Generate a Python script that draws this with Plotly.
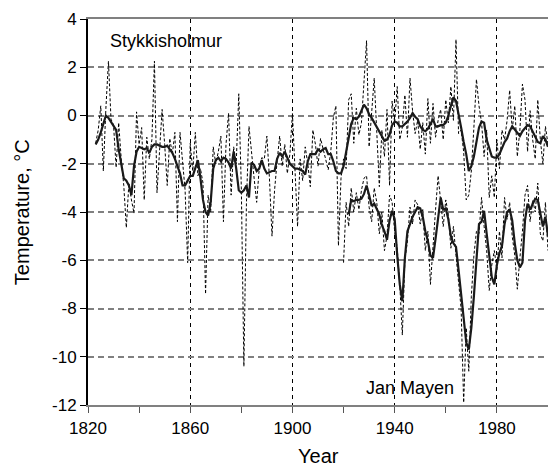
import plotly.graph_objects as go

# ---------------- data ----------------
sty_years = list(range(1823, 2001))
sty_annual = [
    -1.15, -0.6, 0.4, -2.3, 0.3, 2.25, -0.15,                      # 1823-1829
    -0.4, -2.15, -0.3, -1.8, -2.9, -4.65, -2.8, -3.5, -4.05, 0.15,  # 1830s
    -1.2, -0.5, -3.5, -0.9, -1.8, -1.0, 2.25, -3.2, -1.6, 0.25,     # 1840s
    -1.2, -2.9, -0.95, -1.6, -0.7, -4.4, -0.7, -2.1, -3.1, -6.1,    # 1850s
    -1.15, -2.3, -0.7, -2.5, -2.2, -2.8, -7.4, -3.3, -4.0, -1.3,    # 1860s
    -2.0, -1.5, -0.85, -4.4, -1.2, 0.1, -3.3, -1.3, -2.0, 0.9,      # 1870s
    -3.0, -10.4, -3.6, -0.45, -1.7, -2.6, -3.6, -2.2, -1.75, -1.8,  # 1880s
    -0.85, -2.6, -5.0, -3.1, -1.9, -0.85, -2.1, -1.2, -2.4, -1.6,   # 1890s
    0.1, -2.1, -4.6, -1.8, -2.7, -1.3, -2.0, -2.95, -0.6, -1.2,     # 1900s
    -2.1, -0.95, -1.4, -1.9, -2.25, -1.5, -0.1, 0.4, -5.4, -2.6,    # 1910s
    -1.8, -2.2, 0.65, 0.9, -1.15, 0.3, -0.8, -0.3, 1.55, 3.1,       # 1920s
    -1.3, 0.2, 1.55, -0.7, -2.95, -0.6, -1.7, 0.25, -2.9, 0.6,      # 1930s
    -0.3, 1.2, -1.0, -0.5, 0.85, -0.9, 1.55, 0.2, -0.75, -0.2,      # 1940s
    -1.4, -0.3, -1.6, 0.7, -1.15, 0.5, -0.9, -0.2, 0.25, -1.0,      # 1950s
    0.65, -0.3, 1.2, -0.2, 3.15, -0.75, -0.6, -1.5, -3.5, -3.3,     # 1960s
    -2.3, -0.5, 1.5, 0.4, -0.3, -1.7, -0.6, -3.4, -2.5, -3.4,       # 1970s
    -1.0, -2.2, -0.6, -1.0, -0.2, 1.05, -0.6, 0.4, -1.7, -0.6,      # 1980s
    1.3, 0.65, -1.5, 0.2, -1.0, -1.8, 0.65, -1.0, -2.0, -0.45,      # 1990s
    -1.2,                                                           # 2000
]
sty_smooth = [
    -1.2, -1.0, -0.7, -0.3, 0.0, -0.1, -0.25,                         # 1823-1829
    -0.4, -0.6, -1.4, -2.0, -2.6, -2.7, -2.9, -3.3, -2.1, -1.5,       # 1830s
    -1.3, -1.35, -1.4, -1.35, -1.55, -1.3, -1.2, -1.2, -1.25, -1.3,   # 1840s
    -1.3, -1.25, -1.4, -1.55, -1.8, -2.1, -2.4, -2.9, -2.9, -2.7,     # 1850s
    -2.5, -2.5, -2.2, -1.85, -2.6, -3.5, -4.0, -4.15, -3.6, -2.2,     # 1860s
    -1.85, -1.75, -1.9, -1.75, -1.8, -1.95, -2.2, -1.5, -2.2, -3.1,   # 1870s
    -3.2, -3.1, -2.9, -3.4, -1.95, -2.05, -2.3, -2.2, -1.85, -2.2,    # 1880s
    -2.4, -2.35, -2.3, -2.3, -1.8, -1.55, -1.7, -1.5, -1.75, -2.0,    # 1890s
    -2.1, -2.2, -2.2, -2.25, -2.3, -2.45, -1.9, -1.6, -1.6, -1.6,     # 1900s
    -1.4, -1.5, -1.4, -1.35, -1.6, -1.6, -1.9, -2.3, -2.4, -2.4,      # 1910s
    -2.1, -1.5, -0.8, -0.35, -0.1, -0.15, -0.05, 0.2, 0.45, 0.3,      # 1920s
    0.05, -0.1, -0.3, -0.5, -0.65, -0.9, -1.05, -1.0, -0.8, -0.4,     # 1930s
    -0.25, -0.3, -0.45, -0.45, -0.35, -0.25, -0.1, 0.1, -0.05, -0.15, # 1940s
    -0.45, -0.6, -0.65, -0.55, -0.35, -0.15, -0.45, -0.45, -0.4, -0.4,# 1950s
    -0.3, 0.0, 0.4, 0.75, 0.6, 0.1, -0.5, -1.1, -1.6, -2.3,           # 1960s
    -2.1, -1.7, -1.0, -0.5, -0.25, -0.3, -1.0, -1.4, -1.7, -1.75,     # 1970s
    -1.75, -1.6, -1.35, -1.1, -0.95, -0.65, -0.45, -0.6, -0.75, -0.85,# 1980s
    -0.65, -0.5, -0.4, -0.45, -0.65, -0.9, -1.1, -1.15, -0.85, -1.0,  # 1990s
    -1.3,                                                             # 2000
]

jm_years = list(range(1920, 2001))
jm_annual = [
    -6.1, -3.6, -4.6, -3.0, -4.0, -3.2, -3.9, -3.1, -2.6, -2.5,     # 1920s
    -3.8, -4.4, -3.0, -3.6, -4.9, -4.0, -5.6, -5.0, -3.3, -3.6,     # 1930s
    -4.8, -5.5, -7.0, -9.1, -6.0, -5.2, -3.8, -4.5, -3.5, -3.7,     # 1940s
    -4.5, -3.9, -5.6, -4.8, -7.0, -5.2, -3.9, -2.5, -3.6, -4.6,     # 1950s
    -3.5, -4.1, -5.5, -4.6, -5.8, -6.8, -8.0, -11.9, -8.8, -10.6,   # 1960s
    -7.5, -5.8, -4.8, -4.9, -3.4, -4.6, -5.6, -7.25, -6.2, -5.6,    # 1970s
    -6.4, -4.8, -5.9, -3.4, -4.3, -3.6, -5.0, -5.8, -7.2, -5.9,     # 1980s
    -4.8, -3.3, -2.9, -4.4, -3.5, -4.0, -2.8, -4.9, -5.2, -3.6,     # 1990s
    -5.6,                                                           # 2000
]
jm_smooth_years = list(range(1922, 2001))
jm_smooth = [
    -4.1, -3.5, -3.55, -3.5, -3.5, -3.45, -3.25, -2.9,              # 1922-1929
    -3.3, -3.75, -3.65, -3.9, -4.1, -4.55, -4.8, -5.15, -4.35, -3.95,  # 1930s
    -4.3, -5.8, -7.0, -7.7, -5.9, -4.8, -4.5, -4.2, -4.0, -3.8,     # 1940s
    -3.85, -4.2, -4.8, -5.2, -5.8, -5.9, -5.1, -4.2, -3.4, -3.9,    # 1950s
    -3.85, -4.3, -5.0, -5.3, -5.45, -6.4, -7.4, -8.5, -9.4, -9.7,   # 1960s
    -8.8, -7.5, -5.9, -4.5, -4.4, -3.95, -4.9, -5.9, -6.7, -7.0,    # 1970s
    -6.2, -5.7, -5.4, -4.5, -4.0, -3.9, -4.35, -5.3, -6.0, -6.3,    # 1980s
    -6.1, -4.35, -3.65, -3.9, -3.65, -3.45, -3.5, -4.05, -4.6, -4.2,# 1990s
    -5.0,                                                           # 2000
]

x_ticks = [1820, 1860, 1900, 1940, 1980]
x_tick_text = [str(v) for v in x_ticks]
y_ticks = [-12, -10, -8, -6, -4, -2, 0, 2, 4]
y_tick_text = [str(v) for v in y_ticks]

FONT = "Arial, 'Liberation Sans', sans-serif"

fig = go.Figure()
thin = dict(color="black", width=1, dash="3px,2px")
thick = dict(color="#1a1a1a", width=2.2)
fig.add_trace(go.Scatter(x=sty_years, y=sty_annual, mode="lines", line=thin))
fig.add_trace(go.Scatter(x=jm_years, y=jm_annual, mode="lines", line=thin))
fig.add_trace(go.Scatter(x=sty_years, y=sty_smooth, mode="lines", line=thick))
fig.add_trace(go.Scatter(x=jm_smooth_years, y=jm_smooth, mode="lines", line=thick))

fig.update_layout(
    width=549, height=466,
    margin=dict(l=88, r=1, t=19, b=61),
    plot_bgcolor="white", paper_bgcolor="white",
    showlegend=False,
    font=dict(family=FONT, color="black"),
)
fig.update_xaxes(
    range=[1820, 2000],
    tickmode="array", tickvals=x_ticks, ticktext=x_tick_text,
    ticks="outside", ticklen=6, tickcolor="#555555", tickwidth=1,
    ticklabelstandoff=1,
    tickfont=dict(size=17, family=FONT, color="black"),
    showline=True, linecolor="#808080", linewidth=2, mirror=True,
    showgrid=True, gridcolor="black", gridwidth=1, griddash="4px,4px",
    zeroline=False,
    minor=dict(tickvals=[1840, 1880, 1920, 1960], ticks="outside", ticklen=6,
               tickcolor="#555555", showgrid=False),
)
fig.update_yaxes(
    range=[-12, 4],
    tickmode="array", tickvals=y_ticks, ticktext=y_tick_text,
    ticks="outside", ticklen=6, tickcolor="black", tickwidth=1,
    tickfont=dict(size=17, family=FONT, color="black"),
    showline=True, linecolor="black", linewidth=2,
    showgrid=True, gridcolor="#808080", gridwidth=1.5, griddash="6px,4px",
    zeroline=False,
)

fig.add_annotation(x=1828, y=3.07, text="Stykkisholmur", showarrow=False,
                   xanchor="left", yanchor="middle",
                   font=dict(size=18, family=FONT, color="black"))
fig.add_annotation(x=1927.9, y=-11.28, text="Jan Mayen", showarrow=False,
                   xanchor="left", yanchor="middle",
                   font=dict(size=18, family=FONT, color="black"))
fig.add_annotation(xref="paper", yref="paper", x=-0.1432, y=0.5,
                   text="Temperature, °C", textangle=-90, showarrow=False,
                   xanchor="center", yanchor="middle",
                   font=dict(size=20, family=FONT, color="black"))
fig.add_annotation(xref="paper", yref="paper", x=0.5, y=-0.131,
                   text="Year", showarrow=False,
                   xanchor="center", yanchor="middle",
                   font=dict(size=20, family=FONT, color="black"))

fig.write_html("out.html")
